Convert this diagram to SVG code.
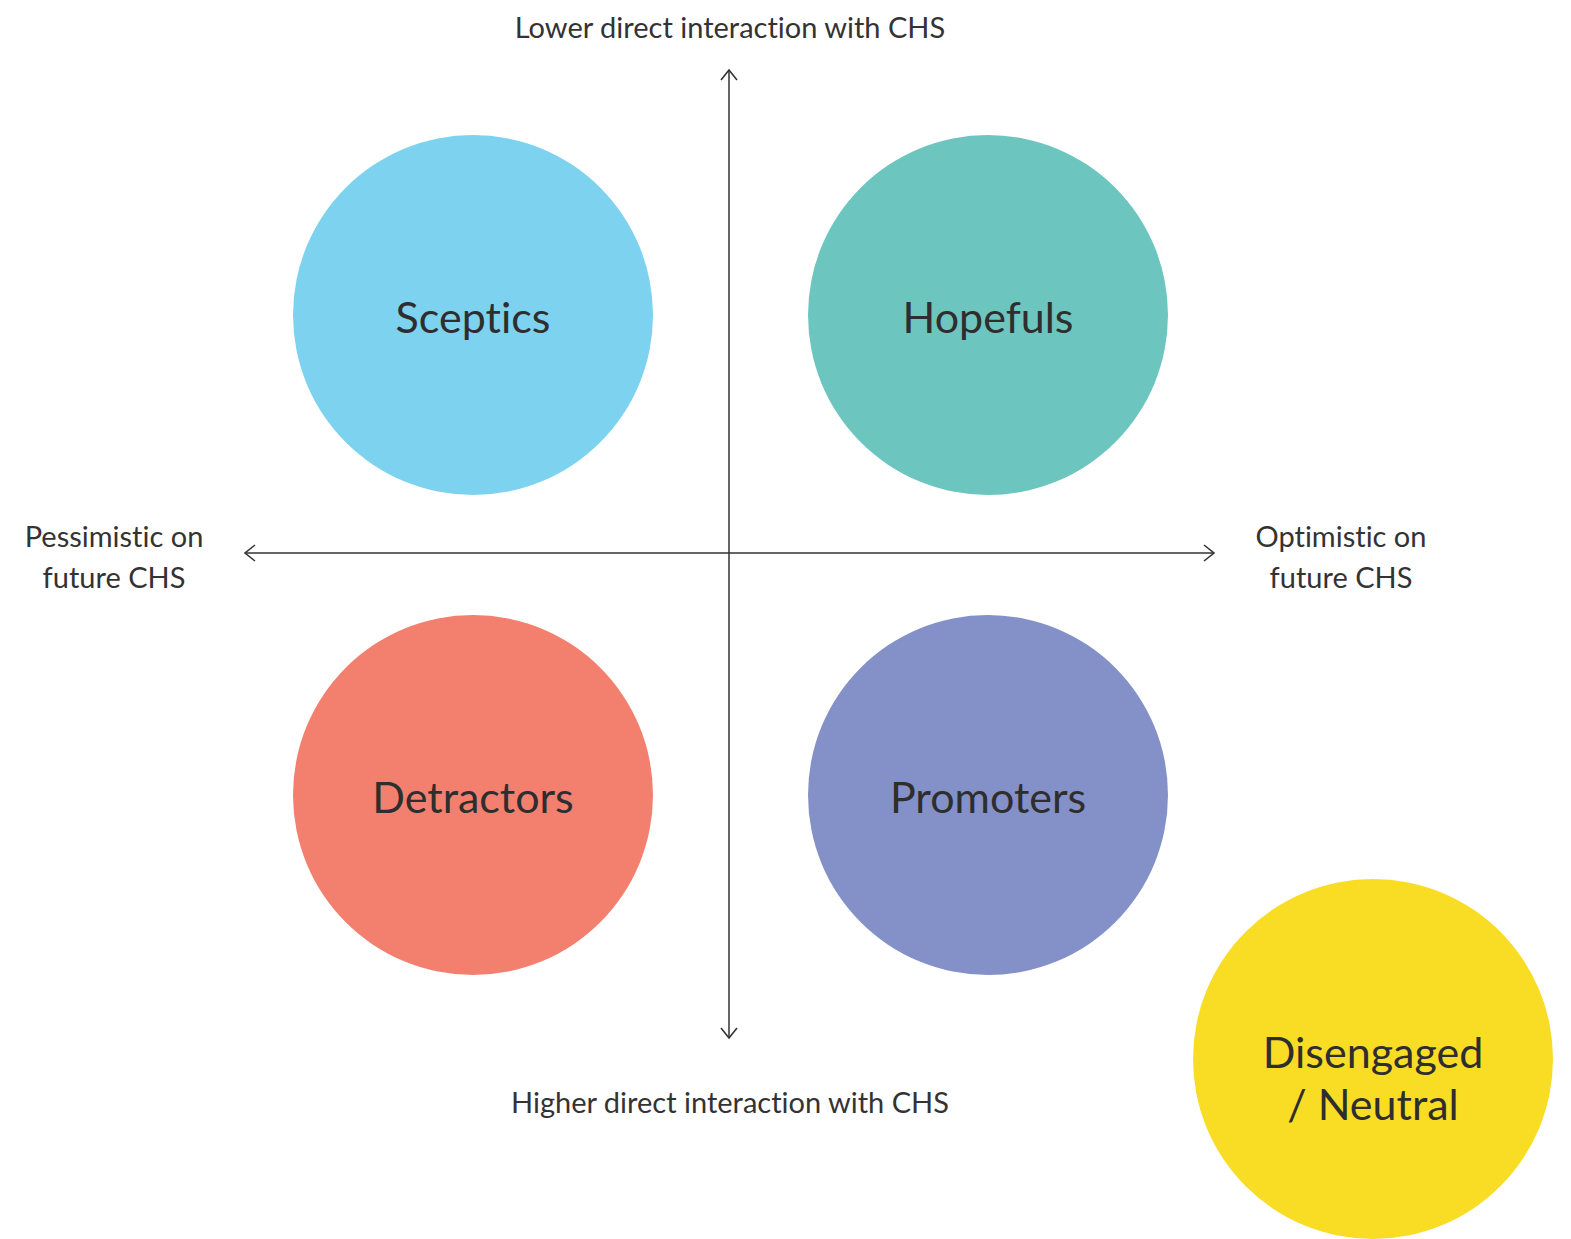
<svg xmlns="http://www.w3.org/2000/svg" width="1571" height="1239" viewBox="0 0 1571 1239">
  <defs>
    <marker id="open-arrow" viewBox="0 0 20 20" refX="18" refY="10" markerWidth="20" markerHeight="20" markerUnits="userSpaceOnUse" orient="auto">
      <path d="M8,2 L18,10 L8,18" fill="none" stroke="#333" stroke-width="1.6" stroke-linejoin="miter"/>
    </marker>
    <style>
      text { font-variant-ligatures: none; font-feature-settings: "liga" 0; }
      .axis { stroke: #333; stroke-width: 1.5; fill: none; }
      .axis-label { font-family: Lato, "Noto Sans", "Liberation Sans", sans-serif; font-size: 29px; fill: #333; text-anchor: middle; }
      .node-label { font-family: Lato, "Noto Sans", "Liberation Sans", sans-serif; font-size: 43px; fill: #2e2e2e; text-anchor: middle; }
    </style>
  </defs>
  <rect width="1571" height="1239" fill="#ffffff"/>

  <!-- axes -->
  <g id="connectors">
    <line class="axis" x1="729" y1="553" x2="729" y2="70" marker-end="url(#open-arrow)"/>
    <line class="axis" x1="729" y1="553" x2="729" y2="1038" marker-end="url(#open-arrow)"/>
    <line class="axis" x1="729" y1="553" x2="245" y2="553" marker-end="url(#open-arrow)"/>
    <line class="axis" x1="729" y1="553" x2="1214" y2="553" marker-end="url(#open-arrow)"/>
  </g>

  <!-- axis labels -->
  <g id="axis-labels">
    <text class="axis-label" x="730" y="38">Lower direct interaction with CHS</text>
    <text class="axis-label" x="730" y="1113">Higher direct interaction with CHS</text>
    <text class="axis-label" x="114" y="547">Pessimistic on</text>
    <text class="axis-label" x="114" y="588">future CHS</text>
    <text class="axis-label" x="1341" y="547">Optimistic on</text>
    <text class="axis-label" x="1341" y="588">future CHS</text>
  </g>

  <!-- quadrants -->
  <g id="sceptics">
    <circle cx="473" cy="315" r="180" fill="#7dd2f0"/>
    <text class="node-label" x="473" y="333">Sceptics</text>
  </g>
  <g id="hopefuls">
    <circle cx="988" cy="315" r="180" fill="#6dc5bf"/>
    <text class="node-label" x="988" y="333">Hopefuls</text>
  </g>
  <g id="detractors">
    <circle cx="473" cy="795" r="180" fill="#f3806f"/>
    <text class="node-label" x="473" y="813">Detractors</text>
  </g>
  <g id="promoters">
    <circle cx="988" cy="795" r="180" fill="#8490c8"/>
    <text class="node-label" x="988" y="813">Promoters</text>
  </g>
  <g id="disengaged">
    <circle cx="1373" cy="1059" r="180" fill="#f9dc24"/>
    <text class="node-label" x="1373" y="1068" font-size="44">Disengaged</text>
    <text class="node-label" x="1373" y="1120" font-size="44">/ Neutral</text>
  </g>
</svg>
